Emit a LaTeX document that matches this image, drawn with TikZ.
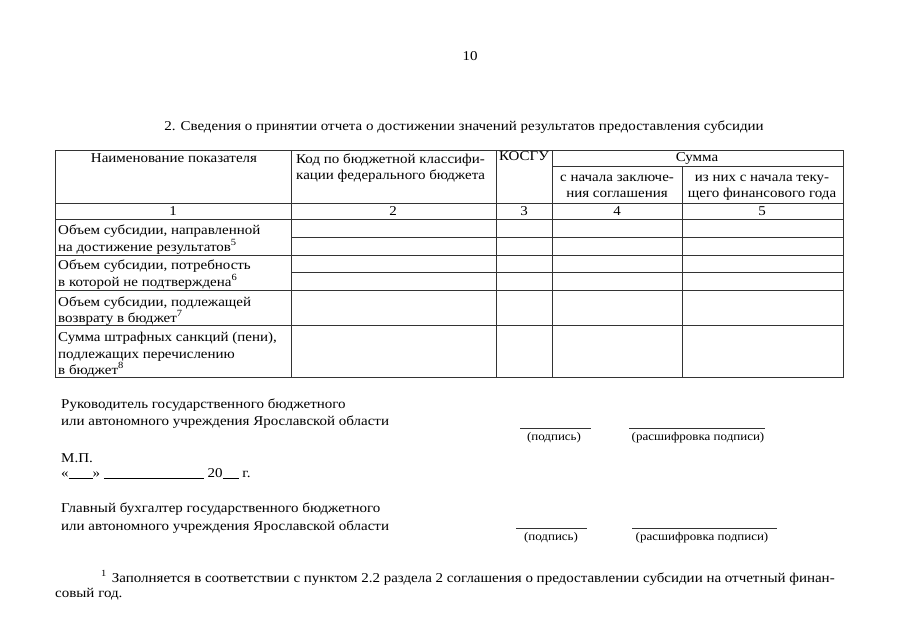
\documentclass[tikz,border=0pt]{standalone}
\usepackage{fontspec}
\setmainfont{Liberation Serif}[FakeStretch=1.11]
\begin{document}
\begin{tikzpicture}[x=1pt,y=-1pt,
  tl/.style={inner sep=0pt,anchor=base west,font=\fontsize{13.5}{16}\selectfont},
  tc/.style={inner sep=0pt,anchor=base,font=\fontsize{13.5}{16}\selectfont},
  ts/.style={inner sep=0pt,anchor=base,font=\fontsize{11.7}{14}\selectfont},
  grid/.style={line width=0.8pt,draw=black!80},
  sig/.style={line width=0.8pt,draw=black!80}]
\useasboundingbox[fill=white] (0,0) rectangle (905,640);
% page number and title
\node[tc] (pg) at (470,60) {10};
\node[tc] (title) at (464,130) {2. Сведения о принятии отчета о достижении значений результатов предоставления субсидии};
% table grid
\draw[grid] (55,150) rectangle (843,377.5);
\foreach \x in {291,496,552} \draw[grid] (\x,150) -- (\x,377.5);
\draw[grid] (682,166) -- (682,377.5);
\draw[grid] (552,166) -- (843,166);
\foreach \y in {203,219.5,255,290,325.5} \draw[grid] (55,\y) -- (843,\y);
\foreach \y in {237.5,272.5} \draw[grid] (291,\y) -- (843,\y);
% header texts
\node[tc] (h1) at (174,162) {Наименование показателя};
\node[tl] (h2a) at (296,163) {Код по бюджетной классифи-};
\node[tl] (h2b) at (296,179) {кации федерального бюджета};
\node[tc] (h3) at (524,160.5) {КОСГУ};
\node[tc] (h4) at (697,161) {Сумма};
\node[tc] (h5a) at (617,181) {с начала заключе-};
\node[tc] (h5b) at (617,197) {ния соглашения};
\node[tc] (h6a) at (762,181) {из них с начала теку-};
\node[tc] (h6b) at (762,197) {щего финансового года};
% numbers
\node[tc] (n1) at (173,215.5) {1};
\node[tc] (n2) at (393,215.5) {2};
\node[tc] (n3) at (524,215.5) {3};
\node[tc] (n4) at (617,215.5) {4};
\node[tc] (n5) at (762,215.5) {5};
% row labels
\node[tl] (r1a) at (58,234) {Объем субсидии, направленной};
\node[tl] (r1b) at (58,251) {на достижение результатов\textsuperscript{5}};
\node[tl] (r2a) at (58,269) {Объем субсидии, потребность};
\node[tl] (r2b) at (58,286) {в которой не подтверждена\textsuperscript{6}};
\node[tl] (r3a) at (58,306) {Объем субсидии, подлежащей};
\node[tl] (r3b) at (58,322) {возврату в бюджет\textsuperscript{7}};
\node[tl] (r4a) at (58,341) {Сумма штрафных санкций (пени),};
\node[tl] (r4b) at (58,358) {подлежащих перечислению};
\node[tl] (r4c) at (58,374) {в бюджет\textsuperscript{8}};
% signatures
\node[tl] (s1a) at (61,408) {Руководитель государственного бюджетного};
\node[tl] (s1b) at (61,425) {или автономного учреждения Ярославской области};
\node[tl] (mp) at (61,462) {М.П.};
\node[tl] (date) at (61,477) {«\underline{\hspace{24pt}}» \underline{\hspace{100pt}} 20\underline{\hspace{16pt}} г.};
\node[tl] (s2a) at (61,512) {Главный бухгалтер государственного бюджетного};
\node[tl] (s2b) at (61,530) {или автономного учреждения Ярославской области};
\coordinate (l1a) at (520,428); \coordinate (l1b) at (591,428);
\coordinate (l2a) at (629,428); \coordinate (l2b) at (765,428);
\coordinate (l3a) at (516,528); \coordinate (l3b) at (587,528);
\coordinate (l4a) at (632,528); \coordinate (l4b) at (777,528);
\draw[sig] (l1a) -- (l1b); \draw[sig] (l2a) -- (l2b);
\draw[sig] (l3a) -- (l3b); \draw[sig] (l4a) -- (l4b);
\node[ts] (p1) at (554,440) {(подпись)};
\node[ts] (p2) at (698,440) {(расшифровка подписи)};
\node[ts] (p3) at (551,540) {(подпись)};
\node[ts] (p4) at (702,540) {(расшифровка подписи)};
% footnote
\node[tl] (fn1) at (101,582) {\textsuperscript{1}\hspace{5pt}Заполняется в соответствии с пунктом 2.2 раздела 2 соглашения о предоставлении субсидии на отчетный финан-};
\node[tl] (fn2) at (55,597) {совый год.};
\end{tikzpicture}
\end{document}
